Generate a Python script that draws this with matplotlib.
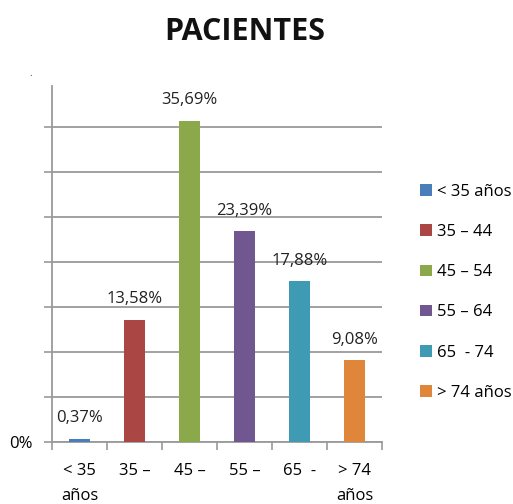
import matplotlib
matplotlib.use("Agg")
import matplotlib.pyplot as plt
from matplotlib.patches import Patch
import numpy as np

categories = ["< 35 años", "35 – 44", "45 – 54", "55 – 64", "65  - 74", "> 74 años"]
tick_labels = ["< 35\naños", "35 –", "45 –", "55 –", "65  -", "> 74\naños"]
values = [0.37, 13.58, 35.69, 23.39, 17.88, 9.08]
value_labels = ["0,37%", "13,58%", "35,69%", "23,39%", "17,88%", "9,08%"]
colors = ["#4A7EBB", "#AA4644", "#8BA94A", "#70578F", "#3F9AB4", "#E0863A"]

plt.rcParams['font.family'] = ['Open Sans', 'DejaVu Sans']

fig = plt.figure(figsize=(5.13, 5.04), dpi=100)
ax = fig.add_axes([52/513, 1-442/504, 330/513, 356/504])

x = np.arange(len(values))
bars = ax.bar(x, values, width=0.38, color=colors, zorder=3)
ax.set_xlim(-0.5, len(values)-0.5)
ax.set_ylim(0, 356/9)

for xi, v, lab in zip(x, values, value_labels):
    ax.annotate(lab, (xi, v), xytext=(0, 9), textcoords="offset points",
                ha="center", va="bottom", fontsize=12, color="#222222")

ax.set_yticks(np.arange(0, 36, 5))
ax.set_yticklabels(["0%"] + [""] * 7)
ax.yaxis.grid(True, color="#9A9A9A", linewidth=1.3, zorder=0)
ax.tick_params(axis="y", length=6, width=1.2, color="#9A9A9A", pad=8, labelsize=12)

ax.set_xticks(x)
ax.set_xticklabels(tick_labels, fontsize=12, linespacing=1.8)
ax.set_xticks(np.arange(-0.5, len(values), 1), minor=True)
ax.tick_params(axis="x", which="major", length=0, pad=15)
ax.tick_params(axis="x", which="minor", length=6, width=1.2, color="#9A9A9A")

for s in ["top", "right"]:
    ax.spines[s].set_visible(False)
for s in ["left", "bottom"]:
    ax.spines[s].set_color("#9A9A9A")
    ax.spines[s].set_linewidth(1.3)

fig.text(245/513, 1-32/504, "PACIENTES", ha="center", va="center",
         fontsize=22, fontweight="bold", color="#111111")
fig.text(31/513, 1-73/504, ".", ha="center", va="center", fontsize=7, color="#444444")

handles = [Patch(facecolor=c, edgecolor="none") for c in colors]
fig.legend(handles, categories, loc="upper left", bbox_to_anchor=(405/513, 1-169/504),
           frameon=False, fontsize=12, handlelength=0.7, handleheight=0.7,
           handletextpad=0.3, labelspacing=1.45)

fig.savefig("out.png", dpi=100)
